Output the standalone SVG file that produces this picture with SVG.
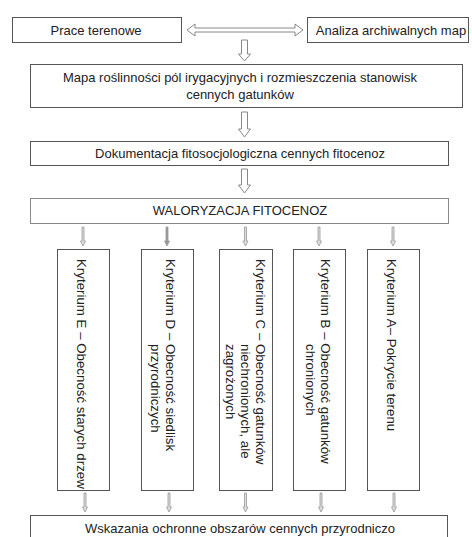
<svg xmlns="http://www.w3.org/2000/svg" width="472" height="537" viewBox="0 0 472 537">
<style>
.box{fill:#fff;stroke:#555;stroke-width:1}
.t{font-family:"Liberation Sans",Arial,sans-serif;font-size:13px;fill:#222}
.r{font-size:13.3px}
.c{text-anchor:middle}
.arr{fill:#fff;stroke:#888;stroke-width:1}
.sarr{fill:#ddd;stroke:#999;stroke-width:0.8}
</style>
<rect width="472" height="537" fill="#fff"/>
<g id="connectors">
<path class="arr" d="M187,30 L195,24 L195,28 L295,28 L295,24 L303,30 L295,36 L295,32 L195,32 L195,36 Z"/>
<path class="arr" d="M241.5,40 L247.5,40 L247.5,54 L250.5,54 L244.5,61 L238.5,54 L241.5,54 Z"/>
<path class="arr" d="M241.5,112 L247.5,112 L247.5,129 L250.5,129 L244.5,137 L238.5,129 L241.5,129 Z"/>
<path class="arr" d="M241.5,169 L247.5,169 L247.5,185 L250.5,185 L244.5,193 L238.5,185 L241.5,185 Z"/>
<path class="sarr" d="M82,227 L84,227 L84,241 L85.5,241 L83,246 L80.5,241 L82,241 Z"/>
<path class="sarr" d="M166,227 L168,227 L168,241 L169.5,241 L167,246 L164.5,241 L166,241 Z" style="fill:#999"/>
<path class="sarr" d="M244.5,227 L246.5,227 L246.5,241 L248,241 L245.5,246 L243,241 L244.5,241 Z"/>
<path class="sarr" d="M318,227 L320,227 L320,241 L321.5,241 L319,246 L316.5,241 L318,241 Z"/>
<path class="sarr" d="M392,227 L394,227 L394,241 L395.5,241 L393,246 L390.5,241 L392,241 Z"/>
<path class="sarr" d="M84,493 L86,493 L86,507 L87.5,507 L85,512 L82.5,507 L84,507 Z"/>
<path class="sarr" d="M168,493 L170,493 L170,507 L171.5,507 L169,512 L166.5,507 L168,507 Z"/>
<path class="sarr" d="M244.5,493 L246.5,493 L246.5,507 L248,507 L245.5,512 L243,507 L244.5,507 Z"/>
<path class="sarr" d="M320,493 L322,493 L322,507 L323.5,507 L321,512 L318.5,507 L320,507 Z"/>
<path class="sarr" d="M393,493 L395,493 L395,507 L396.5,507 L394,512 L391.5,507 L393,507 Z"/>
</g>
<g id="n-prace">
<rect class="box" x="12.5" y="17.5" width="169" height="25"/>
<text class="t c" x="96" y="34.5">Prace terenowe</text>
</g>
<g id="n-analiza">
<rect class="box" x="307.5" y="17.5" width="161" height="25"/>
<text class="t c" x="391" y="34.5">Analiza archiwalnych map</text>
</g>
<g id="n-mapa">
<rect class="box" x="30.5" y="64.5" width="432" height="43"/>
<text class="t c" x="240" y="82">Mapa roślinności pól irygacyjnych i rozmieszczenia  stanowisk</text>
<text class="t c" x="240" y="99">cennych gatunków</text>
</g>
<g id="n-dok">
<rect class="box" x="30.5" y="141.5" width="418" height="24"/>
<text class="t c" x="240" y="158">Dokumentacja fitosocjologiczna cennych fitocenoz</text>
</g>
<g id="n-wal">
<rect class="box" x="30.5" y="198.5" width="418" height="25" style="stroke:#888"/>
<text class="t c" x="240" y="215">WALORYZACJA  FITOCENOZ</text>
</g>
<g id="n-e">
<rect class="box" x="57.5" y="249.5" width="52" height="241"/>
<text class="t r" x="77" y="259" transform="rotate(90 77 259)">Kryterium E – Obecność starych drzew</text>
</g>
<g id="n-d">
<rect class="box" x="141.5" y="249.5" width="52" height="241"/>
<text class="t r" x="166" y="259" transform="rotate(90 166 259)">Kryterium D – Obecność siedlisk</text>
<text class="t r" x="151" y="344" transform="rotate(90 151 344)">przyrodniczych</text>
</g>
<g id="n-c">
<rect class="box" x="219.5" y="249.5" width="53" height="241"/>
<text class="t r" x="256" y="259" transform="rotate(90 256 259)">Kryterium C – Obecność gatunków</text>
<text class="t r" x="241" y="344" transform="rotate(90 241 344)">niechronionych, ale</text>
<text class="t r" x="226" y="344" transform="rotate(90 226 344)">zagrożonych</text>
</g>
<g id="n-b">
<rect class="box" x="293.5" y="249.5" width="52" height="241"/>
<text class="t r" x="321" y="259" transform="rotate(90 321 259)">Kryterium B – Obecność gatunków</text>
<text class="t r" x="306" y="344" transform="rotate(90 306 344)">chronionych</text>
</g>
<g id="n-a">
<rect class="box" x="367.5" y="249.5" width="52" height="241"/>
<text class="t r" x="387" y="259" transform="rotate(90 387 259)">Kryterium A– Pokrycie terenu</text>
</g>
<g id="n-wsk">
<rect class="box" x="30.5" y="515.5" width="417" height="40"/>
<text class="t c" x="240" y="533">Wskazania ochronne obszarów cennych przyrodniczo</text>
</g>
</svg>
